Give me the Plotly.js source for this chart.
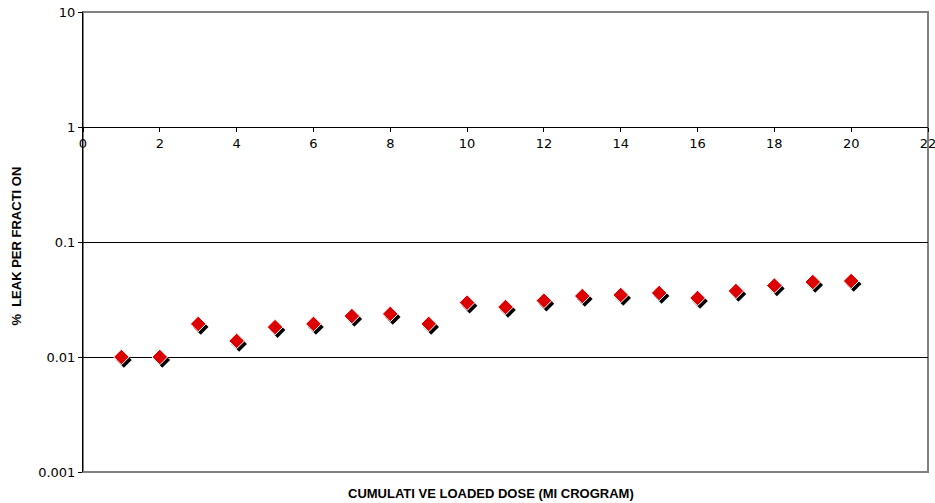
<!DOCTYPE html>
<html>
<head>
<meta charset="utf-8">
<script src="https://cdn.plot.ly/plotly-3.0.1.min.js"></script>
<style>html,body{margin:0;padding:0;background:#fff;}#chart{width:935px;height:503px;}</style>
</head>
<body>
<div id="chart"></div>
<script>
// Data
const doseX = [1,2,3,4,5,6,7,8,9,10,11,12,13,14,15,16,17,18,19,20];
const leakY = [0.0100,0.0100,0.0194,0.0138,0.0182,0.0194,0.0227,0.0237,0.0194,0.0297,0.0272,0.0309,0.0339,0.0346,0.0360,0.0326,0.0375,0.0418,0.0449,0.0458];
const yTickVals = [0.001,0.01,0.1,1,10];
const yTickText = ['0.001','0.01','0.1','1','10'];
const xTickVals = [0,2,4,6,8,10,12,14,16,18,20,22];
const xTickText = ['0','2','4','6','8','10','12','14','16','18','20','22'];
const xTitle = 'CUMULATI VE LOADED DOSE (MI CROGRAM)';
const yTitle = '% &nbsp;LEAK PER FRACTI ON';

const W = 935, H = 503;
const mL = 83, mR = 7, mT = 12, mB = 31;
const plotW = W - mL - mR, plotH = H - mT - mB;
const xRange = [0,22], yRangeLog = [-3,1];
// shadow offset in pixels, converted through the axis scales
const offX = 2.5, offY = 3;
const dxU = offX * (xRange[1]-xRange[0]) / plotW;
const dyU = offY * (yRangeLog[1]-yRangeLog[0]) / plotH;

const font = {family: 'DejaVu Sans, Verdana, sans-serif', size: 13, color: '#000'};
const titleFont = {family: 'Liberation Sans, Arial, sans-serif', size: 13, color: '#000', weight: 'bold'};

const traces = [
  // empty trace so the main (visible) axes exist
  {x: [], y: [], type: 'scatter', mode: 'markers', xaxis: 'x', yaxis: 'y', hoverinfo: 'skip'},
  {x: doseX, y: leakY, type: 'scatter', mode: 'markers', xaxis: 'x2', yaxis: 'y2',
   marker: {symbol: 'diamond', size: 12, color: '#000'}, hoverinfo: 'skip'},
  {x: doseX, y: leakY, type: 'scatter', mode: 'markers', xaxis: 'x3', yaxis: 'y3',
   marker: {symbol: 'diamond', size: 12, color: '#dd0000', line: {color: '#fff', width: 1}}}
];

const layout = {
  width: W, height: H,
  margin: {l: mL, r: mR, t: mT, b: mB, pad: 0},
  paper_bgcolor: '#fff', plot_bgcolor: 'rgba(0,0,0,0)',
  showlegend: false,
  font: font,
  xaxis: {
    range: xRange, anchor: 'free', position: 0.75,
    tickvals: xTickVals, ticktext: xTickText,
    showgrid: false, zeroline: false,
    showline: true, linecolor: '#000', linewidth: 1,
    ticks: 'outside', ticklen: 4, tickcolor: '#000', tickwidth: 1,
    ticklabeloverflow: 'allow',
    tickfont: font
  },
  yaxis: {
    type: 'log', range: yRangeLog,
    tickvals: yTickVals, ticktext: yTickText,
    showgrid: true, gridcolor: '#000', gridwidth: 1,
    zeroline: false,
    showline: true, linecolor: '#000', linewidth: 1,
    ticks: 'outside', ticklen: 4, tickcolor: '#000', tickwidth: 1,
    tickfont: font
  },
  xaxis2: {range: [xRange[0]-dxU, xRange[1]-dxU], overlaying: 'x', visible: false},
  yaxis2: {type: 'log', range: [yRangeLog[0]+dyU, yRangeLog[1]+dyU], overlaying: 'y', visible: false},
  xaxis3: {range: xRange, overlaying: 'x', visible: false},
  yaxis3: {type: 'log', range: yRangeLog, overlaying: 'y', visible: false},
  shapes: [
    {type: 'rect', xref: 'paper', yref: 'paper', x0: 0, x1: 1, y0: 0, y1: 1,
     line: {color: '#808080', width: 2}, layer: 'below'}
  ],
  annotations: [
    {text: xTitle, xref: 'paper', yref: 'paper', x: 0.4832, y: 0, yshift: -21,
     showarrow: false, xanchor: 'center', yanchor: 'middle', font: titleFont},
    {text: yTitle, xref: 'paper', yref: 'paper', x: 0, xshift: -66, y: 0.49,
     showarrow: false, textangle: -90, xanchor: 'center', yanchor: 'middle', font: titleFont}
  ]
};

Plotly.newPlot('chart', traces, layout, {displayModeBar: false, staticPlot: true});
</script>
</body>
</html>
